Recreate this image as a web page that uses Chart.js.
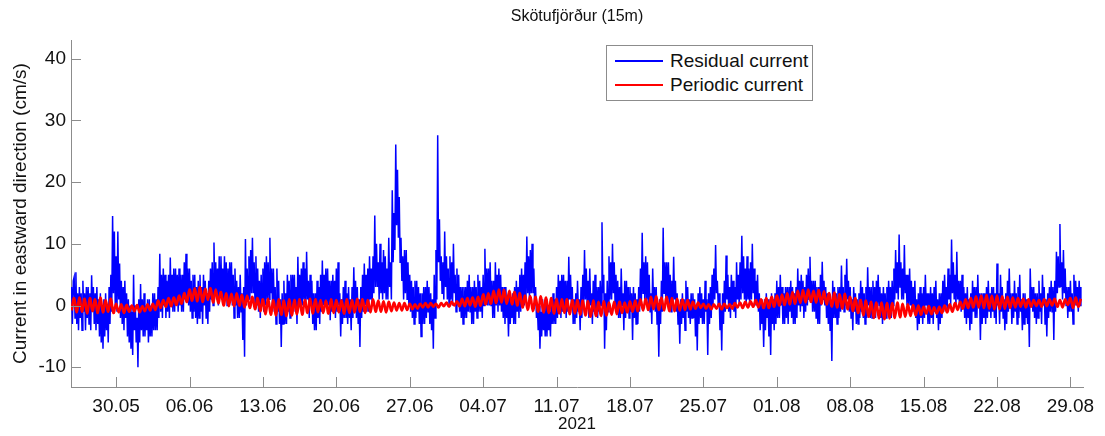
<!DOCTYPE html>
<html>
<head>
<meta charset="utf-8">
<script src="https://cdn.jsdelivr.net/npm/chart.js@4.4.1/dist/chart.umd.min.js"></script>
<style>
    html, body { margin: 0; padding: 0; background: #fff; }
    #wrap { position: relative; width: 1105px; height: 436px; }
    #legend {
        position: absolute; left: 606px; top: 45px; width: 205px; height: 54px;
        border: 1px solid #8c8c8c; background: #fff;
        font-family: "Liberation Sans", Arial, sans-serif; font-size: 19px; color: #111;
    }
    #legend .row { position: absolute; left: 0; height: 24px; display: flex; align-items: center; white-space: nowrap; }
    #legend .swatch { display: inline-block; width: 48px; margin-left: 8px; margin-right: 7px; }
</style>
</head>
<body>
<div id="wrap">
    <canvas id="currentChart" width="1105" height="436"></canvas>
    <div id="legend"></div>
</div>
<script>
// time axis: days after 30.05.2021
const startDay = -4.25;
const residualStep = 1 / 12; // every 2 hours
const periodicStep = 0.25;   // every 6 hours

const xTickDays = [0, 7, 14, 21, 28, 35, 42, 49, 56, 63, 70, 77, 84, 91];
const xTickLabels = ["30.05", "06.06", "13.06", "20.06", "27.06", "04.07", "11.07",
    "18.07", "25.07", "01.08", "08.08", "15.08", "22.08", "29.08"];
const yTicks = [-10, 0, 10, 20, 30, 40];

// Residual current (cm/s), 12 values per day (one row = one day)
const residual = [
    3, -3, 4,
    4.6, -2, 5.4, -3, 2, -4, 3, -2, 2, -4, 4, -1,
    2, -4, 3, -2, 3, -3, 2, -4, 4.9, -1, 3, -3,
    2, -4, 3, -3, 1, -5, 2, -6, 0, -7, 1, -5,
    2, -4, 0, -6, 3, -3, 5, -1, 14.5, 2, 12, 0,
    8, -1, 12, 1, 6.8, -2, 4, -3, 3, -4, 4, -2,
    2, -5, 1, -6, 0, -7, -1, -8, 5, -4, 0, -6,
    -2, -10, 1, -6, 3.5, -4, 1, -5, 2, -5, 0, -4,
    1, -6, 1, -5, 0, -5, 2, -4, 2, -4, 1, -4,
    3, -2, 8.4, -1, 5, -2, 6, 0, 5, -2, 4, -1,
    5, -2, 7.8, 0, 5, -1, 6, -1, 6, 0, 5, -1,
    6, 0, 5, -1, 5, -1, 7, 1, 8.4, 1, 6, 0,
    6, -1, 4, -2, 5, -1, 5, -2, 3, -3, 4, -2,
    5, -1, 3, -3, 5, 0, 4, -2, 2, -3, 4, -1,
    6, 1, 7, 0, 10.2, 2, 7, 1, 6, 0, 8, 2,
    8, 1, 6, 0, 8, 1, 7, 0, 6, 0, 7, 1,
    7, 0, 5, -2, 6, 0, 4, -2, 3, -2, 5, -1,
    2, -5.6, 3, -8.3, 10.8, 0, 6, 1, 8, 1, 9, 2,
    11, 2, 7, 0, 8, 0, 6, -1, 4, -2, 5, 0,
    6, -1, 7, 0, 8, 1, 7, 1, 11, 2, 6, 0,
    6, -1, 3, -3, 6, -1, 4, -3, 1, -6.7, 2, -3,
    4, -3, 2, -3, 5, -1, 4, -2, 5, -1, 5, 0,
    5, -1, 3, -3, 7.9, 0, 5, 0, 6, 0, 7, 1,
    6, 0, 8.7, 1, 4, -2, 5, 0, 4, -3, 2, -4,
    2, -4, 4, -2, 3, -3, 5, -1, 7.3, 0, 5, 0,
    6, 0, 6, 0, 4, -2.4, 4, -1, 5, -1, 4, -2,
    6, -1, 7, 0, 2, -5, 1, -3, 3, -2, 4, -2,
    2, -3, 3, -2, 1, -4, 3, -2, 6.2, -1, 4, -2,
    3, -3, 1, -6.7, 3, -2, 5, -1, 6.8, 0, 5, -1,
    6, -1, 8, 1, 6, 0, 8, 2, 14.6, 3, 10, 3,
    7, 1, 10, 2, 7, 1, 9, 2, 8, 1, 6, 1,
    11, 3, 7, 1, 18.7, 7, 15, 9, 26.1, 13, 22, 11,
    17.6, 7, 11, 4, 8, 1, 9, 2, 9, 1, 7, 0,
    5, -1, 4, -2, 3, -3, 4, -2, 4, -1, 3, -3,
    2, -5, 2, -3, 3, -3, 3, -2, 4, -1, 3, -3,
    2, -4, 1, -7, 5, -2, 9, 1, 27.6, 7, 14, 4,
    8, 2, 7, 1, 12, 3, 8, 1, 6, 0, 8, 1,
    7, 0, 10, 2, 5, -1, 6, 0, 5, -1, 3, -2,
    3, -3, 3, -2, 3, -2, 4, -1, 5, -1, 3, -3,
    3, -3, 4, -1, 3, -2, 5, -1, 4, -1, 3, -2,
    5, 0, 9.2, 1, 6, 0, 6, 0, 7, 0, 4, -2,
    4, -2, 7, 0, 5, -1, 6, 0, 5, -1, 3, -2,
    3, -3, 3, -2, 1, -5, 2, -3, 1, -2, 2, -3,
    3, -3, 4, -1, 3, -2, 5, -1, 6, 0, 5, 0,
    7, 1, 11.2, 2, 8, 1, 9, 2, 10, 2, 6, 0,
    3, -2, 0, -4, 0, -7, -1, -5, 1, -4, -1, -5,
    1, -5, 0, -4, -1, -5, 1, -3, 2, -3, 1, -3,
    3, -2, 5, -1, 4, -2, 5, -1, 5, -1, 4, -2,
    4, -1, 7.9, 1, 5, 0, 3, -3, 1, -3, 2, -2,
    4, -1, 1, -4, 3, -2, 5, 0, 9, 1, 6, 0,
    4, -2, 6, 0, 2, -3, 4, -1, 5, -1, 3, -2,
    3, -1, 4, 0, 13.5, 2, 5, -7, 2, -4, 4, -1,
    8, 1, 7, 1, 10, 2, 7, 0, 5, -1, 4, -2,
    3, -2, 6, 0, 2, -4, 4, -2, 4, -1, 3, -2,
    3, -1, 2, -5.6, 3, -2, 2, -3, 1, -3, 3, -1,
    6, 0, 11.8, 2, 7, 1, 8, 1, 7, 0, 5, -1,
    2, -3, 6, 0, 3, -1, 3, -3, 0, -8.3, 1, -3,
    4, -1, 12.6, 2, 7, 1, 7, 1, 7, 0, 5, -1,
    4, 0, 7.9, 1, 4, -1, 2, -3, 0, -6.2, 1, -3,
    2, -2, 1, -4, 4, -1, 3, -2, 1, -3, 2, -2,
    2, -2, 1, -5, 0, -7.3, 2, -3, 3, -2, 2, -3,
    1, -3, 4, -1, 1, -8, 2, -3, 3, -2, 5, 0,
    6, 1, 9.8, 2, 4, 0, 2, -4, 0, -7.3, 2, -3,
    4, -1, 8.1, 1, 5, -1, 3, -2, 5, 0, 4, -1,
    3, -2, 7, 1, 5, 0, 7, 1, 11.3, 2, 8, 1,
    6, 0, 8, 1, 6, 0, 7, 1, 10, 2, 6, 0,
    4, 0, 5, -1, 2, -4, 1, -3, 0, -6.7, 1, -4,
    2, -2, 1, -5, 0, -8, 2, -3, 1, -4, 2, -3,
    4, -2, 3, -2, 5, 0, 3, -3, 2, -3, 3, -2,
    3, -3, 3, -1, 4, -2, 3, -3, 2, -3, 3, -2,
    6, 0, 4, -1, 5, 0, 4, -2, 3, -1, 5, 0,
    6, 1, 7.9, 1, 4, -1, 4, -1, 4, -2, 3, -3,
    3, -3, 5, 0, 7.1, 1, 4, 0, 3, -2, 2, -3,
    1, -4, 0, -9, 4, -2, 3, -2, 2, -3, 3, -2,
    3, -1, 6.5, 0, 3, -1, 5, 0, 7.6, 1, 4, -1,
    3, -2, 1, -4, 3, -1, 2, -3, 1, -3, 2, -2,
    4, -1, 3, -2, 2, -3, 3, -2, 6.2, 0, 3, -2,
    3, -2, 4, -1, 3, -2, 4, 0, 5, 0, 3, -2,
    2, -3, 3, -2, 2, -2, 3, -1, 4, -1, 3, -2,
    4, 0, 6, 1, 9, 2, 7, 1, 11.5, 3, 7, 1,
    6, 1, 9.8, 2, 5, 0, 5, 0, 6, 0, 4, -1,
    3, -1, 4, -2, 1, -4, 2, -3, 3, -2, 2, -3,
    3, -2, 5, 0, 2, -3, 2, -3, 3, -2, 2, -3,
    3, -1, 4, -2, 1, -4, 2, -3, 2, -2, 4, -1,
    5, 0, 3, -1, 6, 1, 5, 0, 10.7, 2, 7, 1,
    5, 0, 8.7, 1, 4, 0, 4, -1, 5, 0, 3, -2,
    2, -3, 3, -2, 1, -4, 2, -3, 4, -1, 3, -2,
    3, -2, 5, 0, 2, -5.6, 2, -3, 2, -2, 2, -3,
    3, -2, 4, -1, 2, -2, 3, -1, 3, -2, 2, -3,
    6.8, 0, 2, -3, 5, -1, 3, -2, 1, -4, 2, -3,
    4, -1, 6, 0, 2, -3, 2, -2, 4, -1, 2, -3,
    3, -2, 5, -1, 1, -4, 2, -3, 2, -2, 1, -3,
    1, -6.7, 6, 0, 3, -1, 3, -2, 2, -3, 2, -2,
    4, -1, 2, -3, 5, 0, 3, -3, 1, -5, 2, -2,
    3, -1, 4, -1, 3, -5.6, 4, -1, 8.7, 2, 8, 3,
    13.2, 3, 7, 1, 9, 2, 6, 0, 3, -2, 3, -1,
    4, -1, 2, -3, 5, 0, 4, 0, 3, -1, 4, 0,
    3
];

// Periodic (tidal) current (cm/s), 4 values per day
const periodic = [
    -0.8,
    1.2, -1.1, 1.3, -1.0,   1.1, -1.3, 1.2, -0.9,   1.0, -1.2, 1.3, -1.1,   0.9, -1.0, 1.1, -1.2,
    0.3, -1.1, 0.2, -1.2,   0.1, -1.0, 0.0, -0.9,   0.1, -1.1, -0.1, -0.9,  0.2, -0.8, 0.3, -0.7,
    0.8, -0.4, 0.9, -0.2,   1.2, -0.1, 1.3, 0.1,    1.6, 0.3, 2.0, 0.6,     2.6, 0.8, 2.8, 0.7,
    3.0, 0.6, 2.7, 0.9,     2.8, 0.5, 2.6, 0.4,     2.2, 0.0, 2.0, -0.1,    1.9, -0.1, 2.0, 0.0,
    1.7, -0.3, 1.6, -0.4,   1.4, -0.6, 1.2, -0.9,   1.0, -1.4, 1.1, -1.5,   0.9, -1.6, 1.0, -1.5,
    0.8, -1.7, 1.0, -1.6,   0.9, -1.4, 1.0, -1.5,   0.9, -1.2, 1.1, -1.3,   1.0, -1.1, 0.9, -1.2,
    0.8, -1.3, 1.0, -1.2,   0.9, -1.1, 0.8, -1.3,   1.0, -1.2, 0.9, -1.1,   1.1, -1.0, 1.0, -1.2,
    0.9, -1.1, 1.0, -1.0,   0.8, -1.0, 0.7, -1.1,   0.6, -0.9, 0.5, -0.8,   0.4, -0.8, 0.4, -0.7,
    0.3, -0.6, 0.2, -0.5,   0.3, -0.3, 0.4, -0.3,   0.4, -0.2, 0.3, -0.3,   0.4, -0.1, 0.5, -0.2,
    0.6, 0.0, 0.7, -0.1,    1.1, -0.1, 1.2, 0.0,    1.3, -0.2, 1.4, 0.0,    1.8, 0.2, 2.0, 0.3,
    2.4, 0.4, 2.6, 0.5,     2.5, 0.3, 2.4, 0.2,     2.2, 0.0, 2.0, -0.3,    1.6, -0.7, 1.5, -0.9,
    1.4, -1.0, 1.5, -1.1,   1.3, -1.2, 1.2, -1.3,   1.1, -1.3, 1.0, -1.2,   1.0, -1.4, 0.9, -1.3,
    0.9, -1.5, 0.8, -1.6,   0.7, -1.8, 0.8, -1.7,   0.6, -1.7, 0.7, -1.6,   0.5, -1.5, 0.6, -1.4,
    0.6, -1.2, 0.5, -1.1,   0.7, -1.0, 0.8, -0.9,   1.0, -0.8, 1.1, -0.7,   1.4, -0.6, 1.5, -0.7,
    1.3, -0.8, 1.4, -0.9,   1.2, -0.9, 1.1, -0.8,   1.0, -0.7, 0.9, -0.6,   0.6, -0.5, 0.5, -0.4,
    0.3, -0.5, 0.2, -0.6,   0.2, -0.5, 0.3, -0.6,   0.3, -0.4, 0.2, -0.5,   0.4, -0.3, 0.5, -0.4,
    0.6, -0.3, 0.7, -0.2,   0.9, -0.3, 1.0, -0.4,   1.2, -0.4, 1.4, -0.2,   1.6, 0.0, 1.8, 0.1,
    2.0, 0.2, 2.2, 0.3,     2.4, 0.4, 2.5, 0.5,     2.6, 0.6, 2.4, 0.5,     2.5, 0.3, 2.3, 0.2,
    2.0, -0.2, 2.1, -0.3,   1.8, -0.5, 1.9, -0.6,   1.4, -0.9, 1.2, -1.2,   0.9, -1.6, 0.8, -1.8,
    0.6, -2.0, 0.5, -2.1,   0.5, -2.2, 0.4, -2.1,   0.4, -2.0, 0.5, -1.9,   0.3, -1.8, 0.2, -1.7,
    0.1, -1.6, 0.0, -1.5,   -0.2, -1.3, -0.1, -1.4, -0.3, -1.3, -0.2, -1.2, 0.0, -1.1, 0.2, -1.0,
    0.4, -0.7, 0.6, -0.5,   1.0, -0.4, 1.2, -0.3,   1.5, -0.3, 1.6, -0.4,   1.7, -0.5, 1.6, -0.6,
    1.6, -0.6, 1.5, -0.5,   1.4, -0.4, 1.3, -0.3,   1.2, -0.2, 1.1, -0.3,   1.0, -0.2, 0.9, -0.1,
    0.9, -0.2, 1.0, -0.1,   1.0, 0.0, 1.1, -0.2,    0.9, -0.3, 1.0, 0.1,    1.2, -0.4, 1.3, -0.2,
    1.1
];

const fontFamily = '"Liberation Sans", Arial, sans-serif';
const axisColor = "#8c8c8c";

function toPoints(values, step) {
    return values.map((v, i) => ({ x: startDay + i * step, y: v }));
}

// tick marks drawn inward, matlab style
const inwardTicks = {
    id: "inwardTicks",
    afterDraw(chart) {
        const { ctx, chartArea, scales } = chart;
        ctx.save();
        ctx.strokeStyle = axisColor;
        ctx.lineWidth = 1;
        scales.x.ticks.forEach(t => {
            const px = Math.round(scales.x.getPixelForValue(t.value)) + 0.5;
            ctx.beginPath();
            ctx.moveTo(px, chartArea.bottom);
            ctx.lineTo(px, chartArea.bottom - 10);
            ctx.stroke();
        });
        scales.y.ticks.forEach(t => {
            const py = Math.round(scales.y.getPixelForValue(t.value)) + 0.5;
            ctx.beginPath();
            ctx.moveTo(chartArea.left, py);
            ctx.lineTo(chartArea.left + 10, py);
            ctx.stroke();
        });
        ctx.restore();
    }
};

const ctx = document.getElementById("currentChart").getContext("2d");

const chart = new Chart(ctx, {
    type: "line",
    data: {
        datasets: [
            {
                label: "Residual current",
                data: toPoints(residual, residualStep),
                borderColor: "#0000ff",
                borderWidth: 1.5,
                pointRadius: 0,
                tension: 0,
                order: 2
            },
            {
                label: "Periodic current",
                data: toPoints(periodic, periodicStep),
                borderColor: "#ff0000",
                borderWidth: 2.6,
                pointRadius: 0,
                tension: 0.4,
                order: 1
            }
        ]
    },
    options: {
        responsive: false,
        animation: false,
        layout: { padding: { left: 0, right: 22, top: 0, bottom: 0 } },
        plugins: {
            legend: { display: false },
            tooltip: { enabled: false },
            title: {
                display: true,
                fullSize: false,
                text: "Skötufjörður (15m)",
                color: "#111",
                font: { family: fontFamily, size: 16, weight: "normal" },
                padding: { top: 7, bottom: 14 }
            }
        },
        scales: {
            x: {
                type: "linear",
                min: -4.3,
                max: 92.2,
                grid: { display: false, drawTicks: false },
                border: { display: true, color: axisColor, width: 1 },
                afterBuildTicks: scale => { scale.ticks = xTickDays.map(v => ({ value: v })); },
                afterFit: scale => { scale.height = 49; },
                ticks: {
                    autoSkip: false,
                    maxRotation: 0,
                    padding: 8,
                    color: "#111",
                    font: { family: fontFamily, size: 19 },
                    callback: v => xTickLabels[xTickDays.indexOf(v)]
                },
                title: {
                    display: true,
                    text: "2021",
                    color: "#111",
                    font: { family: fontFamily, size: 17 },
                    padding: { top: 0, bottom: 1 }
                }
            },
            y: {
                min: -13.2,
                max: 43,
                grid: { display: false, drawTicks: false },
                border: { display: true, color: axisColor, width: 1 },
                afterBuildTicks: scale => { scale.ticks = yTicks.map(v => ({ value: v })); },
                afterFit: scale => { scale.width = 71; },
                ticks: {
                    padding: 5,
                    color: "#111",
                    font: { family: fontFamily, size: 19 }
                },
                title: {
                    display: true,
                    text: "Current in eastward direction (cm/s)",
                    color: "#111",
                    font: { family: fontFamily, size: 19 },
                    padding: { top: 9, bottom: 0 }
                }
            }
        }
    },
    plugins: [inwardTicks]
});

// legend box inside the plot, built from the datasets
const legendBox = document.getElementById("legend");
chart.data.datasets.forEach((ds, i) => {
    const row = document.createElement("div");
    row.className = "row";
    row.style.top = (3 + i * 24) + "px";
    const sw = document.createElement("span");
    sw.className = "swatch";
    sw.style.borderTop = (i === 0 ? 2 : 2.5) + "px solid " + ds.borderColor;
    row.appendChild(sw);
    row.appendChild(document.createTextNode(ds.label));
    legendBox.appendChild(row);
});
</script>
</body>
</html>
